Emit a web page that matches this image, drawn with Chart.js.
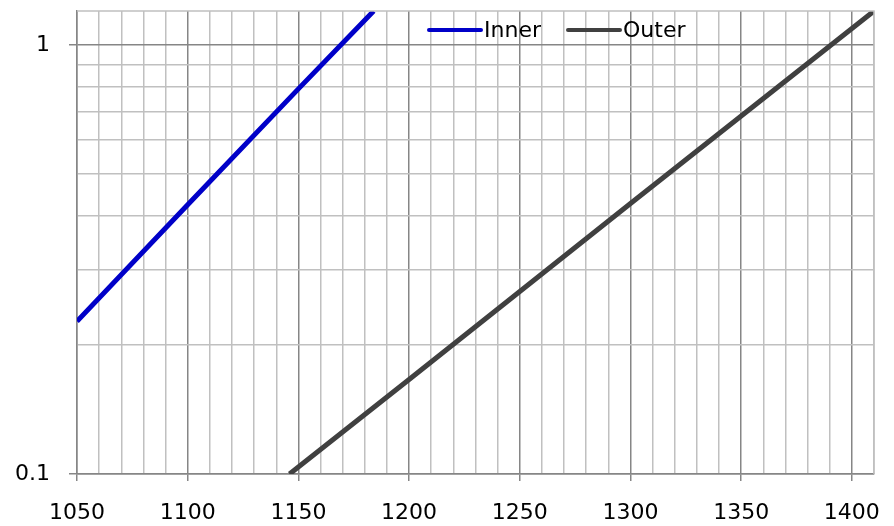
<!DOCTYPE html>
<html>
<head>
    <meta charset="UTF-8">
    <title>Inner / Outer</title>
    <script src="https://cdn.jsdelivr.net/npm/chart.js"></script>
    <style>
        html, body { margin: 0; padding: 0; background: #fff; }
        #wrap { width: 894px; height: 526px; }
    </style>
</head>
<body>
    <div id="wrap"><canvas id="chart" width="894" height="526"></canvas></div>

    <script>
        // values
        var innerX = [1050, 1100, 1150, 1184];
        var innerY = [0.227, 0.424, 0.79, 1.2];
        var outerX = [1146, 1200, 1300, 1410];
        var outerY = [0.1, 0.166, 0.427, 1.2];

        var seriesNames = ['Inner', 'Outer'];
        var xTicksMajor = [1050, 1100, 1150, 1200, 1250, 1300, 1350, 1400];
        var yGridValues = [0.1, 0.2, 0.3, 0.4, 0.5, 0.6, 0.7, 0.8, 0.9, 1];
        var yLabels = [0.1, 1];

        var FONT = { family: '"DejaVu Sans", sans-serif', size: 22 };
        var MAJOR = '#868686';
        var MINOR = '#c0c0c0';

        function pts(xs, ys) {
            return xs.map(function(x, i) { return { x: x, y: ys[i] }; });
        }

        // legend drawn inside the plot, lines + text like the original
        var innerLegend = {
            id: 'innerLegend',
            afterDatasetsDraw: function(chart) {
                var ctx = chart.ctx;
                var starts = [429, 568];
                ctx.save();
                ctx.font = FONT.size + 'px ' + FONT.family;
                ctx.textBaseline = 'middle';
                ctx.fillStyle = '#000';
                ctx.lineCap = 'round';
                chart.data.datasets.forEach(function(ds, i) {
                    var x0 = starts[i], y0 = 30;
                    ctx.strokeStyle = ds.borderColor;
                    ctx.lineWidth = 4;
                    ctx.beginPath();
                    ctx.moveTo(x0, y0);
                    ctx.lineTo(x0 + 52, y0);
                    ctx.stroke();
                    ctx.fillText(ds.label, x0 + 55, y0 + 1);
                });
                ctx.restore();
            }
        };

        var ctx = document.getElementById('chart').getContext('2d');
        var chart = new Chart(ctx, {
            type: 'line',
            data: {
                datasets: [{
                    label: seriesNames[0],
                    data: pts(innerX, innerY),
                    borderColor: '#0000c8',
                    borderWidth: 5,
                    pointRadius: 0,
                    tension: 0
                }, {
                    label: seriesNames[1],
                    data: pts(outerX, outerY),
                    borderColor: '#404040',
                    borderWidth: 5,
                    pointRadius: 0,
                    tension: 0
                }]
            },
            options: {
                responsive: false,
                animation: false,
                layout: { padding: { left: 0, right: 20, top: 11, bottom: 0 } },
                plugins: {
                    legend: { display: false },
                    tooltip: { enabled: false }
                },
                scales: {
                    x: {
                        type: 'linear',
                        min: 1050,
                        max: 1410,
                        afterBuildTicks: function(scale) {
                            var t = [];
                            for (var v = 1050; v <= 1410; v += 10) t.push({ value: v });
                            scale.ticks = t;
                        },
                        afterFit: function(scale) {
                            scale.height = 52;
                            scale.paddingLeft = 0;
                            scale.paddingRight = 0;
                        },
                        border: { display: true, color: MAJOR, width: 1.5 },
                        grid: {
                            color: function(c) {
                                return xTicksMajor.indexOf(c.tick.value) >= 0 ? MAJOR : MINOR;
                            },
                            tickColor: function(c) {
                                return xTicksMajor.indexOf(c.tick.value) >= 0 ? MAJOR : 'rgba(0,0,0,0)';
                            },
                            tickLength: 7,
                            lineWidth: 1.5
                        },
                        ticks: {
                            autoSkip: false,
                            maxRotation: 0,
                            padding: 19,
                            color: '#000',
                            font: FONT,
                            callback: function(v) {
                                return xTicksMajor.indexOf(v) >= 0 ? String(v) : '';
                            }
                        }
                    },
                    y: {
                        type: 'logarithmic',
                        min: 0.1,
                        max: 1.2,
                        afterBuildTicks: function(scale) {
                            scale.ticks = yGridValues.map(function(v) { return { value: v }; });
                        },
                        afterFit: function(scale) {
                            scale.width = 77;
                            scale.paddingTop = 0;
                            scale.paddingBottom = 0;
                        },
                        border: { display: true, color: MAJOR, width: 1.5 },
                        grid: {
                            color: function(c) {
                                return yLabels.indexOf(c.tick.value) >= 0 ? MAJOR : MINOR;
                            },
                            tickColor: function(c) {
                                return yLabels.indexOf(c.tick.value) >= 0 ? MAJOR : 'rgba(0,0,0,0)';
                            },
                            tickLength: 8,
                            lineWidth: 1.5
                        },
                        ticks: {
                            autoSkip: false,
                            padding: 19,
                            color: '#000',
                            font: FONT,
                            callback: function(v) {
                                return yLabels.indexOf(v) >= 0 ? String(v) : '';
                            }
                        }
                    }
                }
            },
            plugins: [innerLegend, {
                id: 'frame',
                afterDraw: function(chart) {
                    var a = chart.chartArea, c = chart.ctx;
                    c.save();
                    c.strokeStyle = MINOR;
                    c.lineWidth = 1.5;
                    c.beginPath();
                    c.moveTo(a.left, a.top);
                    c.lineTo(a.right, a.top);
                    c.lineTo(a.right, a.bottom);
                    c.stroke();
                    c.restore();
                }
            }]
        });
    </script>
</body>
</html>
